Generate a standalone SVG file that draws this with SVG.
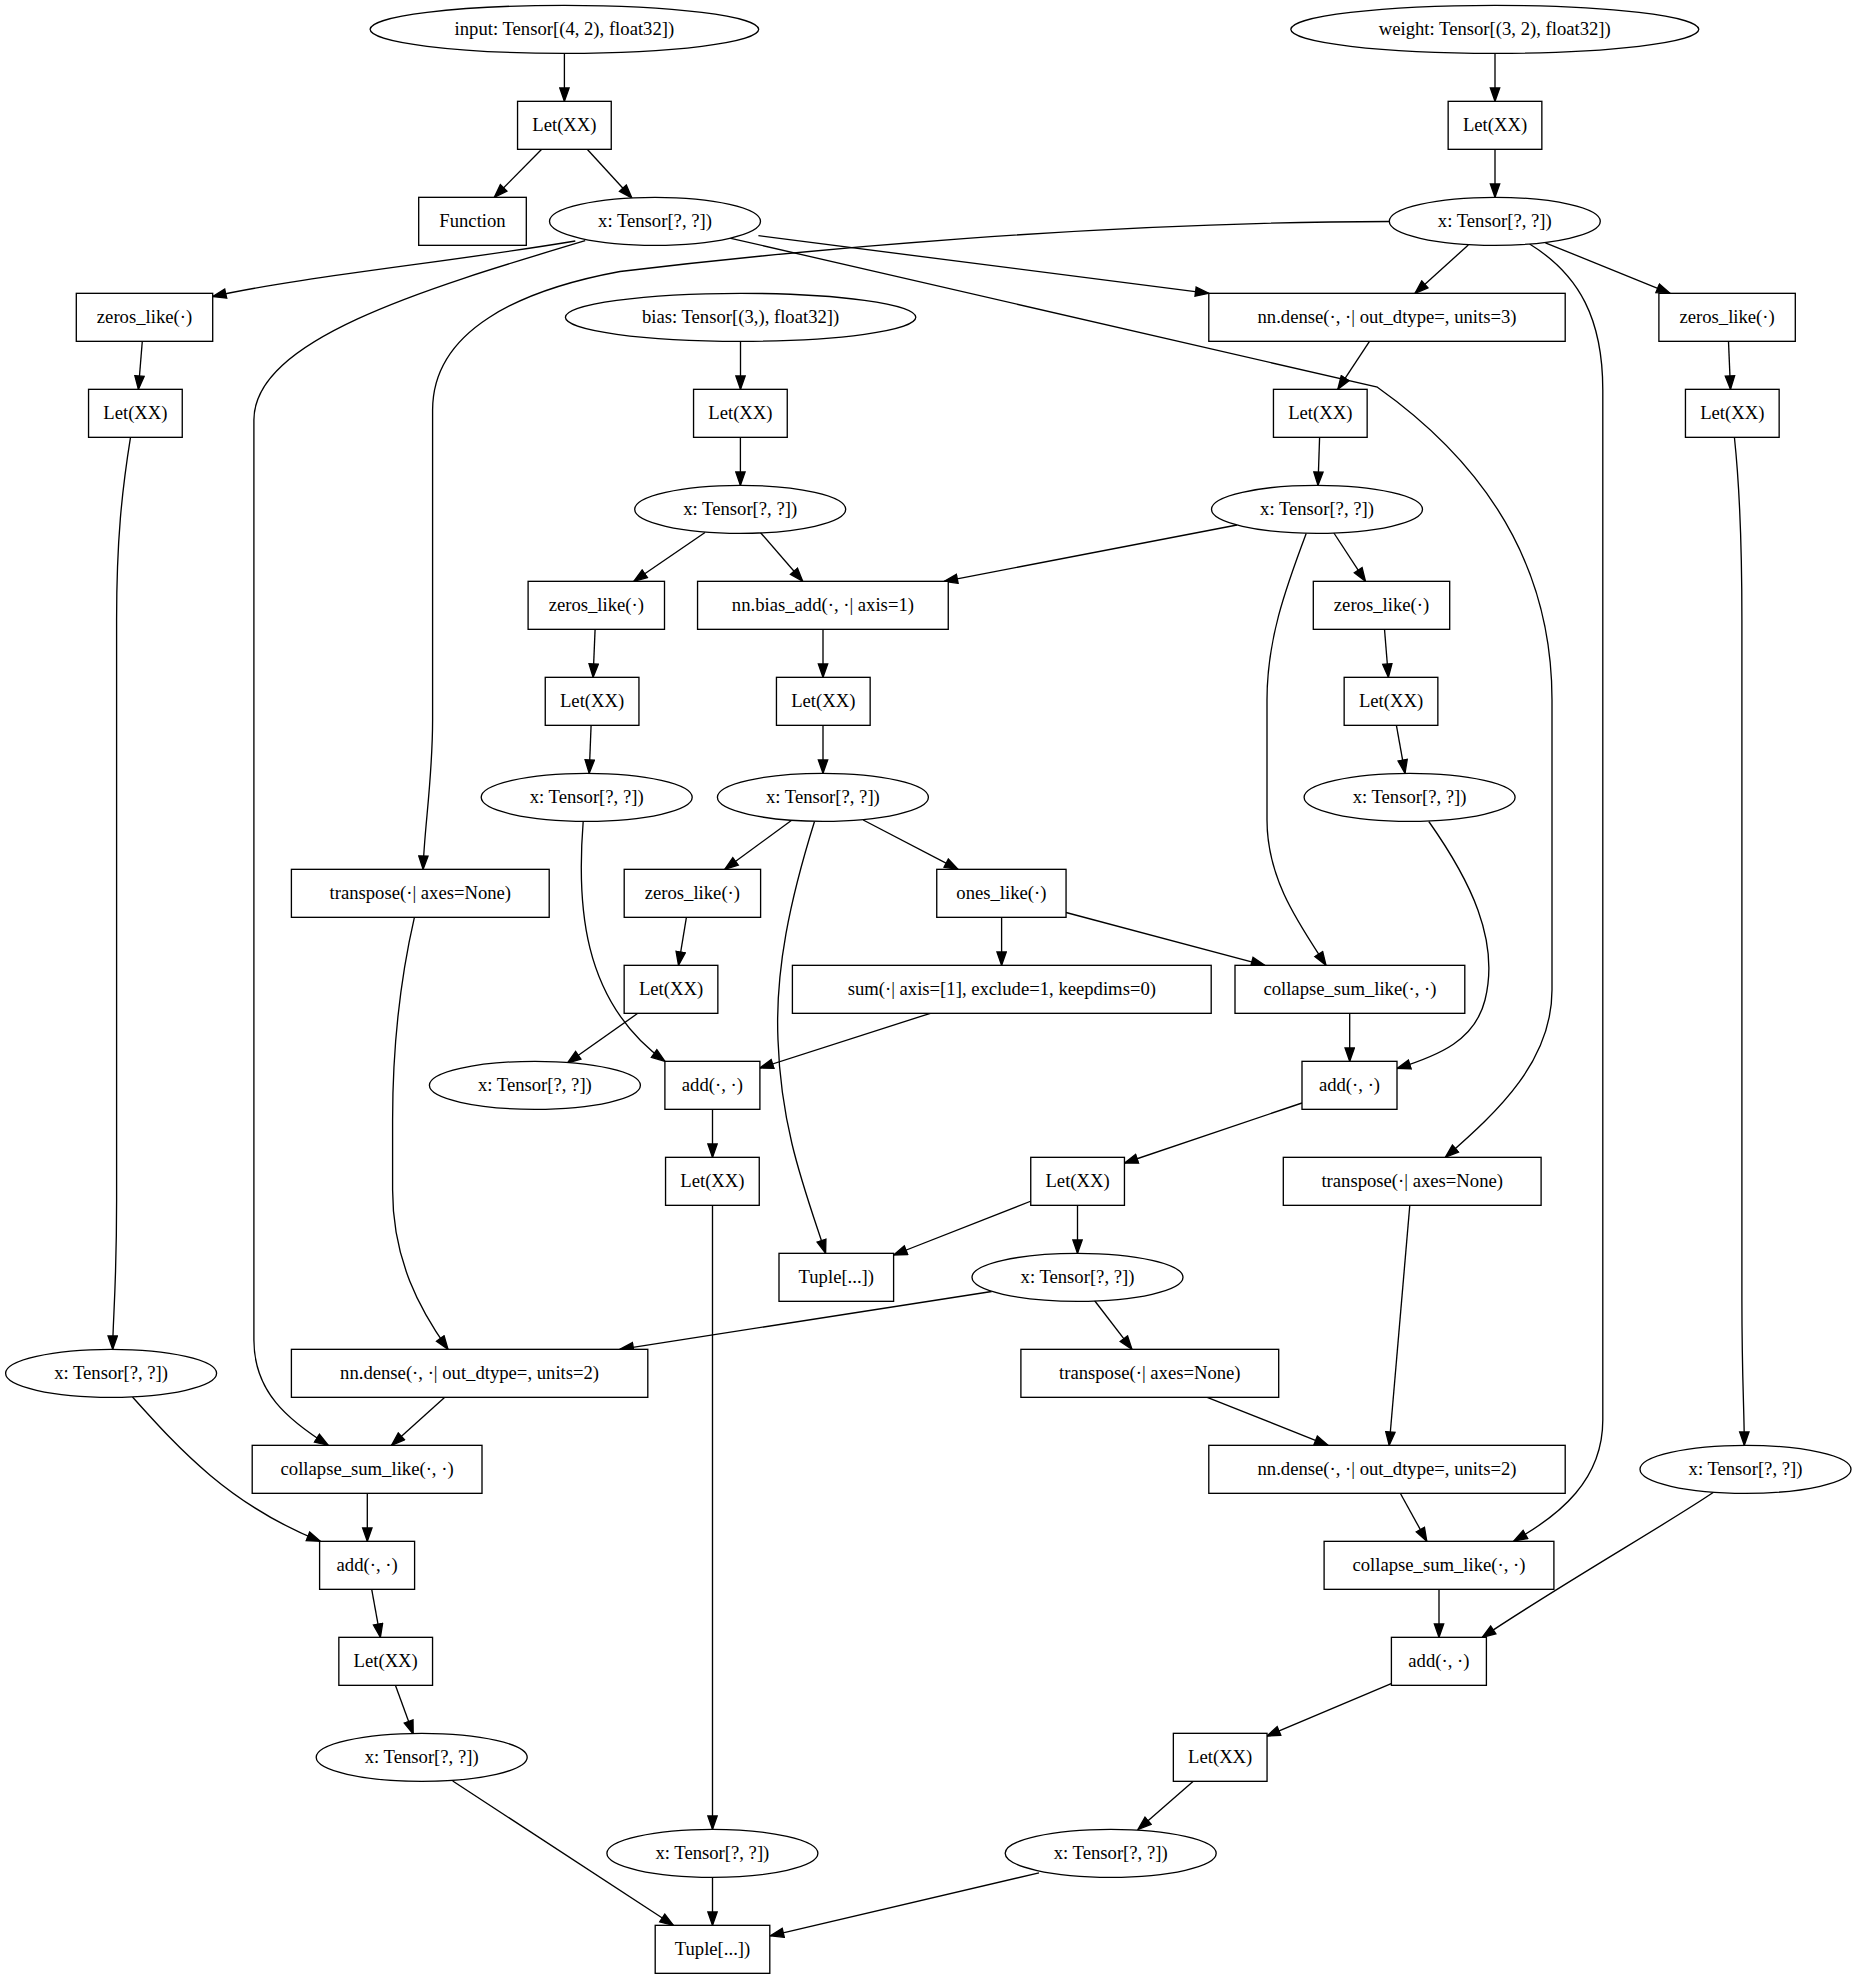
<svg xmlns="http://www.w3.org/2000/svg" width="1857" height="1979" viewBox="0 0 1857 1979">
<style>
.n rect, .n ellipse { fill: #ffffff; stroke: #000000; stroke-width: 1.33; }
.n text { font-family: "Liberation Serif", "Times New Roman", serif; font-size: 18.67px; text-anchor: middle; fill: #000000; }
.e path { fill: none; stroke: #000000; stroke-width: 1.33; marker-end: url(#arr); }
</style>
<defs>
<marker id="arr" markerUnits="userSpaceOnUse" viewBox="-1 -1 15.5 11.5" markerWidth="15.5" markerHeight="11.5" refX="13.33" refY="4.67" orient="auto">
<path d="M0,0 L13.33,4.67 L0,9.33 Z" fill="#000000" stroke="#000000" stroke-width="1.33"/>
</marker>
</defs>
<rect x="0" y="0" width="1857" height="1979" fill="#ffffff"/>
<g id="edges" class="e">
<path d="M564.4,53.3 L564.4,101.3"/>
<path d="M1495,53.3 L1495,101.3"/>
<path d="M541.7,149.3 L494.3,197.3"/>
<path d="M587.2,149.3 L631.9,198"/>
<path d="M1495,149.3 L1495,197.3"/>
<path d="M575.3,241 C450,262 300,277 212.7,296.5"/>
<path d="M758.4,235.7 L1208.8,293.3"/>
<path d="M585.2,240.7 C420,290 253.9,340 253.9,420 L253.9,1340 C253.9,1392 288,1420 328.2,1445.3"/>
<path d="M728.7,237.8 L1377.4,387.2 C1480,460 1552,560 1552,700 L1552,990 C1552,1060 1500,1110 1445.4,1157.3"/>
<path d="M1468.3,245 L1415,293.3"/>
<path d="M1545.4,242.8 L1670,293.3"/>
<path d="M1389.6,221.5 C1100,222 800,250 620,271.5 C520,290 432.6,330 432.6,410 L432.6,720 C432.6,780 424,830 423.1,869.3"/>
<path d="M1529.6,244 C1580,275 1602.8,320 1602.8,390 L1602.8,1420 C1602.8,1480 1560,1515 1513.8,1541"/>
<path d="M142.3,341.3 L138.4,389.3"/>
<path d="M130.5,437.3 C122,490 116.6,540 116.6,620 L116.6,1200 C116.6,1290 112.7,1320 112.7,1349.3"/>
<path d="M740.5,341.3 L740.5,389.3"/>
<path d="M740.4,437.3 L740.4,485.3"/>
<path d="M1369.5,341.3 L1337.8,389.3"/>
<path d="M1319.6,437.3 L1318,485.3"/>
<path d="M1728.5,341.3 L1730.5,389.3"/>
<path d="M1734.4,437.3 C1740,490 1741.9,540 1741.9,620 L1741.9,1300 C1741.9,1380 1744.3,1410 1744.3,1445.3"/>
<path d="M705,532.5 L633.8,581.3"/>
<path d="M760.4,532.5 L802.7,581.3"/>
<path d="M1237,525 L944.2,581.3"/>
<path d="M1333.9,533 L1365.5,581.3"/>
<path d="M1306.2,533.5 C1285,590 1267,640 1267,700 L1267,820 C1267,880 1300,925 1326,965.3"/>
<path d="M595.1,629.3 L593.1,677.3"/>
<path d="M823,629.3 L823,677.3"/>
<path d="M1384.5,629.3 L1388.4,677.3"/>
<path d="M591.1,725.3 L589.2,773.3"/>
<path d="M823,725.3 L823,773.3"/>
<path d="M1396.4,725.3 L1405,773.3"/>
<path d="M583.2,821.3 C577,900 580,1000 664.9,1061.3"/>
<path d="M792,820 L724.8,869.3"/>
<path d="M863.2,820 L958,869.3"/>
<path d="M814.5,821.5 C790,900 775,970 778,1040 C781,1130 805,1190 825.6,1253.3"/>
<path d="M1428.8,821.5 C1470,880 1500,940 1485,1000 C1475,1040 1440,1055 1397.1,1068.5"/>
<path d="M414.4,917.3 C400,980 392.6,1050 392.6,1120 L392.6,1190 C392.6,1260 420,1310 448,1349.3"/>
<path d="M686.4,917.3 L678.5,965.3"/>
<path d="M1001.6,917.3 L1001.6,965.3"/>
<path d="M1066,912.5 L1264.7,965.3"/>
<path d="M637.8,1013.3 L567.4,1063"/>
<path d="M930.4,1013.3 L759.9,1068"/>
<path d="M1349.7,1013.3 L1349.7,1061.3"/>
<path d="M712.5,1109.3 L712.5,1157.3"/>
<path d="M1302,1103 L1124.5,1163"/>
<path d="M1031.2,1201 L893.6,1255"/>
<path d="M1077.5,1205.3 L1077.5,1253.3"/>
<path d="M712.5,1205.3 L712.5,1829.3"/>
<path d="M1409.8,1205.3 L1389.2,1445.3"/>
<path d="M991.7,1291.5 L620,1349.3"/>
<path d="M1094.5,1300.5 L1132,1349.3"/>
<path d="M1207.2,1397.3 L1328,1445.3"/>
<path d="M132.5,1397 C180,1450 230,1505 320.3,1541.3"/>
<path d="M444.8,1397.3 L391.5,1445.3"/>
<path d="M367.3,1493.3 L367.3,1541.3"/>
<path d="M371.7,1589.3 L380.4,1637.3"/>
<path d="M395.4,1685.3 L413.2,1734"/>
<path d="M452.7,1781 L673.4,1925.3"/>
<path d="M712.5,1877.3 L712.5,1925.3"/>
<path d="M1039,1872.8 L770.3,1935.8"/>
<path d="M1400.3,1493.3 L1426.8,1541.3"/>
<path d="M1713.5,1492.3 C1670,1522 1560,1585 1482.2,1637.3"/>
<path d="M1439,1589.3 L1439,1637.3"/>
<path d="M1391.2,1683.6 L1266.7,1736.1"/>
<path d="M1193.3,1781.3 L1138,1829.5"/>
</g>
<g id="n_input" class="n"><ellipse cx="564.4" cy="29.33" rx="194.3" ry="24"/><text x="564.4" y="35.33">input: Tensor[(4, 2), float32])</text></g>
<g id="n_weight" class="n"><ellipse cx="1494.8" cy="29.33" rx="204" ry="24"/><text x="1494.8" y="35.33">weight: Tensor[(3, 2), float32])</text></g>
<g id="n_let1" class="n"><rect x="517.55" y="101.33" width="93.7" height="48"/><text x="564.4" y="131.33">Let(XX)</text></g>
<g id="n_let2" class="n"><rect x="1448.15" y="101.33" width="93.7" height="48"/><text x="1495" y="131.33">Let(XX)</text></g>
<g id="n_function" class="n"><rect x="418.7" y="197.33" width="107.6" height="48"/><text x="472.5" y="227.33">Function</text></g>
<g id="n_x1" class="n"><ellipse cx="655" cy="221.33" rx="105.5" ry="24"/><text x="655" y="227.33">x: Tensor[?, ?])</text></g>
<g id="n_x2" class="n"><ellipse cx="1494.8" cy="221.33" rx="105.5" ry="24"/><text x="1494.8" y="227.33">x: Tensor[?, ?])</text></g>
<g id="n_zeros1" class="n"><rect x="76.3" y="293.33" width="136.4" height="48"/><text x="144.5" y="323.33">zeros_like(·)</text></g>
<g id="n_bias" class="n"><ellipse cx="740.6" cy="317.33" rx="175.2" ry="24"/><text x="740.6" y="323.33">bias: Tensor[(3,), float32])</text></g>
<g id="n_dense3" class="n"><rect x="1208.8" y="293.33" width="356.4" height="48"/><text x="1387" y="323.33">nn.dense(·, ·| out_dtype=, units=3)</text></g>
<g id="n_zeros2" class="n"><rect x="1658.9" y="293.33" width="136.4" height="48"/><text x="1727.1" y="323.33">zeros_like(·)</text></g>
<g id="n_let3" class="n"><rect x="88.55" y="389.33" width="93.7" height="48"/><text x="135.4" y="419.33">Let(XX)</text></g>
<g id="n_let4" class="n"><rect x="693.55" y="389.33" width="93.7" height="48"/><text x="740.4" y="419.33">Let(XX)</text></g>
<g id="n_let5" class="n"><rect x="1273.45" y="389.33" width="93.7" height="48"/><text x="1320.3" y="419.33">Let(XX)</text></g>
<g id="n_let6" class="n"><rect x="1685.45" y="389.33" width="93.7" height="48"/><text x="1732.3" y="419.33">Let(XX)</text></g>
<g id="n_x3" class="n"><ellipse cx="740.2" cy="509.33" rx="105.5" ry="24"/><text x="740.2" y="515.33">x: Tensor[?, ?])</text></g>
<g id="n_x4" class="n"><ellipse cx="1317" cy="509.33" rx="105.5" ry="24"/><text x="1317" y="515.33">x: Tensor[?, ?])</text></g>
<g id="n_zeros3" class="n"><rect x="528.1" y="581.33" width="136.4" height="48"/><text x="596.3" y="611.33">zeros_like(·)</text></g>
<g id="n_biasadd" class="n"><rect x="697.55" y="581.33" width="250.7" height="48"/><text x="822.9" y="611.33">nn.bias_add(·, ·| axis=1)</text></g>
<g id="n_zeros4" class="n"><rect x="1313.3" y="581.33" width="136.4" height="48"/><text x="1381.5" y="611.33">zeros_like(·)</text></g>
<g id="n_let7" class="n"><rect x="545.25" y="677.33" width="93.7" height="48"/><text x="592.1" y="707.33">Let(XX)</text></g>
<g id="n_let8" class="n"><rect x="776.45" y="677.33" width="93.7" height="48"/><text x="823.3" y="707.33">Let(XX)</text></g>
<g id="n_let9" class="n"><rect x="1344.15" y="677.33" width="93.7" height="48"/><text x="1391" y="707.33">Let(XX)</text></g>
<g id="n_x5" class="n"><ellipse cx="586.7" cy="797.33" rx="105.5" ry="24"/><text x="586.7" y="803.33">x: Tensor[?, ?])</text></g>
<g id="n_x6" class="n"><ellipse cx="822.9" cy="797.33" rx="105.5" ry="24"/><text x="822.9" y="803.33">x: Tensor[?, ?])</text></g>
<g id="n_x7" class="n"><ellipse cx="1409.6" cy="797.33" rx="105.5" ry="24"/><text x="1409.6" y="803.33">x: Tensor[?, ?])</text></g>
<g id="n_transpose1" class="n"><rect x="291.4" y="869.33" width="257.8" height="48"/><text x="420.3" y="899.33">transpose(·| axes=None)</text></g>
<g id="n_zeros5" class="n"><rect x="624.2" y="869.33" width="136.4" height="48"/><text x="692.4" y="899.33">zeros_like(·)</text></g>
<g id="n_ones" class="n"><rect x="936.75" y="869.33" width="129.3" height="48"/><text x="1001.4" y="899.33">ones_like(·)</text></g>
<g id="n_let10" class="n"><rect x="624.15" y="965.33" width="93.7" height="48"/><text x="671" y="995.33">Let(XX)</text></g>
<g id="n_sum" class="n"><rect x="792.4" y="965.33" width="418.8" height="48"/><text x="1001.8" y="995.33">sum(·| axis=[1], exclude=1, keepdims=0)</text></g>
<g id="n_collapse1" class="n"><rect x="1235" y="965.33" width="229.8" height="48"/><text x="1349.9" y="995.33">collapse_sum_like(·, ·)</text></g>
<g id="n_x8" class="n"><ellipse cx="534.9" cy="1085.33" rx="105.5" ry="24"/><text x="534.9" y="1091.33">x: Tensor[?, ?])</text></g>
<g id="n_add1" class="n"><rect x="664.9" y="1061.33" width="95" height="48"/><text x="712.4" y="1091.33">add(·, ·)</text></g>
<g id="n_add2" class="n"><rect x="1302" y="1061.33" width="95" height="48"/><text x="1349.5" y="1091.33">add(·, ·)</text></g>
<g id="n_let11" class="n"><rect x="665.55" y="1157.33" width="93.7" height="48"/><text x="712.4" y="1187.33">Let(XX)</text></g>
<g id="n_let12" class="n"><rect x="1030.75" y="1157.33" width="93.7" height="48"/><text x="1077.6" y="1187.33">Let(XX)</text></g>
<g id="n_transpose2" class="n"><rect x="1283.3" y="1157.33" width="257.8" height="48"/><text x="1412.2" y="1187.33">transpose(·| axes=None)</text></g>
<g id="n_tuple1" class="n"><rect x="779" y="1253.33" width="114.6" height="48"/><text x="836.3" y="1283.33">Tuple[...])</text></g>
<g id="n_x9" class="n"><ellipse cx="1077.5" cy="1277.33" rx="105.5" ry="24"/><text x="1077.5" y="1283.33">x: Tensor[?, ?])</text></g>
<g id="n_x10" class="n"><ellipse cx="111.1" cy="1373.33" rx="105.5" ry="24"/><text x="111.1" y="1379.33">x: Tensor[?, ?])</text></g>
<g id="n_dense2a" class="n"><rect x="291.4" y="1349.33" width="356.4" height="48"/><text x="469.6" y="1379.33">nn.dense(·, ·| out_dtype=, units=2)</text></g>
<g id="n_transpose3" class="n"><rect x="1020.9" y="1349.33" width="257.8" height="48"/><text x="1149.8" y="1379.33">transpose(·| axes=None)</text></g>
<g id="n_collapse2" class="n"><rect x="252.2" y="1445.33" width="229.8" height="48"/><text x="367.1" y="1475.33">collapse_sum_like(·, ·)</text></g>
<g id="n_dense2b" class="n"><rect x="1208.8" y="1445.33" width="356.4" height="48"/><text x="1387" y="1475.33">nn.dense(·, ·| out_dtype=, units=2)</text></g>
<g id="n_x11" class="n"><ellipse cx="1745.5" cy="1469.33" rx="105.5" ry="24"/><text x="1745.5" y="1475.33">x: Tensor[?, ?])</text></g>
<g id="n_add3" class="n"><rect x="319.6" y="1541.33" width="95" height="48"/><text x="367.1" y="1571.33">add(·, ·)</text></g>
<g id="n_collapse3" class="n"><rect x="1324.1" y="1541.33" width="229.8" height="48"/><text x="1439" y="1571.33">collapse_sum_like(·, ·)</text></g>
<g id="n_let13" class="n"><rect x="338.85" y="1637.33" width="93.7" height="48"/><text x="385.7" y="1667.33">Let(XX)</text></g>
<g id="n_add4" class="n"><rect x="1391.4" y="1637.33" width="95" height="48"/><text x="1438.9" y="1667.33">add(·, ·)</text></g>
<g id="n_x12" class="n"><ellipse cx="421.7" cy="1757.33" rx="105.5" ry="24"/><text x="421.7" y="1763.33">x: Tensor[?, ?])</text></g>
<g id="n_let14" class="n"><rect x="1173.35" y="1733.33" width="93.7" height="48"/><text x="1220.2" y="1763.33">Let(XX)</text></g>
<g id="n_x13" class="n"><ellipse cx="712.4" cy="1853.33" rx="105.5" ry="24"/><text x="712.4" y="1859.33">x: Tensor[?, ?])</text></g>
<g id="n_x14" class="n"><ellipse cx="1110.7" cy="1853.33" rx="105.5" ry="24"/><text x="1110.7" y="1859.33">x: Tensor[?, ?])</text></g>
<g id="n_tuple2" class="n"><rect x="655.2" y="1925.33" width="114.6" height="48"/><text x="712.5" y="1955.33">Tuple[...])</text></g>
</svg>
